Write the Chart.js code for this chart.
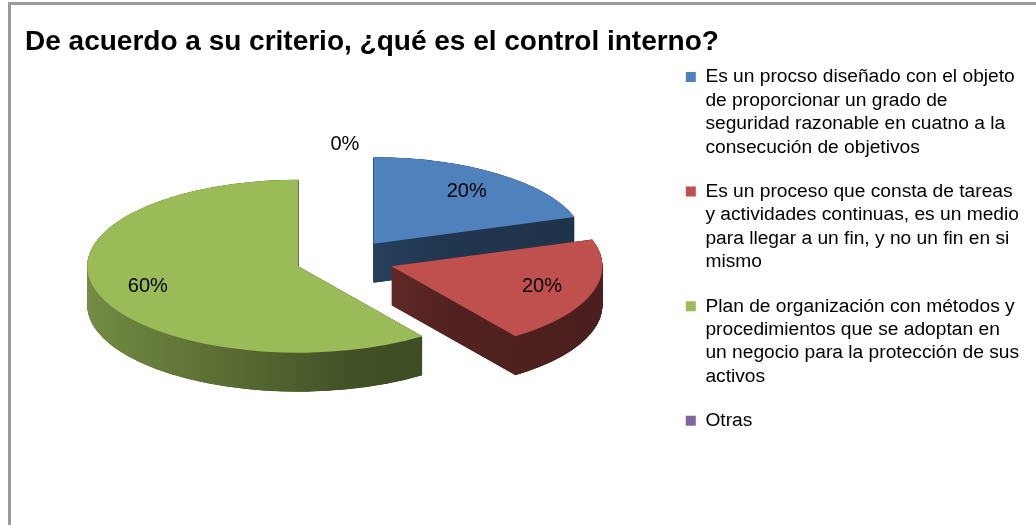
<!DOCTYPE html>
<html lang="es">
<head>
  <meta charset="UTF-8">
  <title>Control interno</title>
  <script src="https://cdn.jsdelivr.net/npm/chart.js"></script>
  <style>
    body { margin: 0; background: #fff; }
    .wrap { position: relative; width: 1036px; height: 525px; overflow: hidden; }
    .frame { position: absolute; left: 8px; top: 2px; width: 1100px; height: 600px;
             border-left: 3px solid #9a9a9a; border-top: 3px solid #9a9a9a; }
    canvas { position: absolute; left: 0; top: 0; }
  </style>
</head>
<body>
  <div class="wrap">
    <div class="frame"></div>
    <canvas id="pieChart" width="1036" height="525"></canvas>
  </div>

  <script>
    const titulo = 'De acuerdo a su criterio, ¿qué es el control interno?';

    const categorias = [
      ['Es un procso diseñado con el objeto', 'de proporcionar un grado de', 'seguridad razonable en cuatno a la', 'consecución de objetivos'],
      ['Es un proceso que consta de tareas', 'y actividades continuas, es un medio', 'para llegar a un fin, y no un fin en si', 'mismo'],
      ['Plan de organización con métodos y', 'procedimientos que se adoptan en', 'un negocio para la protección de sus', 'activos'],
      ['Otras']
    ];
    const porcentajes = [20, 20, 60, 0];
    const colores = ['#4F81BD', '#C0504D', '#9BBB59', '#8064A2'];

    const FONT = "'Liberation Sans', Arial, sans-serif";

    // darker version of a hex colour, for the side walls
    function shade(hex, f) {
      const n = parseInt(hex.slice(1), 16);
      const r = Math.round(((n >> 16) & 255) * f);
      const g = Math.round(((n >> 8) & 255) * f);
      const b = Math.round((n & 255) * f);
      return `rgb(${r},${g},${b})`;
    }

    function midAngle(arc) {
      return (arc.startAngle + arc.endAngle) / 2;
    }

    // tilted, exploded pie with side walls, drawn with the arc elements of the chart
    const pie3d = {
      id: 'pie3d',
      beforeDatasetsDraw(chart, args, opts) {
        const ctx = chart.ctx;
        const arcs = chart.getDatasetMeta(0).data;
        const values = chart.data.datasets[0].data;
        const cx = arcs[0].x;
        const cy = arcs[0].y;
        const R = arcs[0].outerRadius;
        const depth = opts.depth / opts.tilt;

        // back slices first
        const order = arcs.map((a, i) => i)
          .filter(i => arcs[i].circumference > 0)
          .sort((a, b) => Math.sin(midAngle(arcs[a])) - Math.sin(midAngle(arcs[b])));

        ctx.save();
        ctx.translate(0, cy);
        ctx.scale(1, opts.tilt);
        ctx.translate(0, -cy);
        order.forEach(i => {
          const arc = arcs[i];
          const a = midAngle(arc);
          const off = arc.options.offset || 0;
          const base = arc.options.backgroundColor;
          const grad = ctx.createLinearGradient(cx - R - off, 0, cx + R + off, 0);
          grad.addColorStop(0, shade(base, 0.8));
          grad.addColorStop(0.62, shade(base, 0.42));
          grad.addColorStop(1, shade(base, 0.38));

          const side = Object.create(arc);
          side.options = Object.assign({}, arc.options, { backgroundColor: grad, offset: 0 });
          const top = Object.create(arc);
          top.options = Object.assign({}, arc.options, { offset: 0 });

          ctx.save();
          ctx.translate(Math.cos(a) * off, Math.sin(a) * off);
          for (let k = depth; k > 0; k -= 0.5) {
            ctx.save();
            ctx.translate(0, k);
            side.draw(ctx);
            ctx.restore();
          }
          top.draw(ctx);
          ctx.restore();
        });
        ctx.restore();

        // percentage labels
        ctx.save();
        ctx.font = opts.labelFont;
        ctx.fillStyle = opts.labelColor;
        ctx.textAlign = 'center';
        ctx.textBaseline = 'middle';
        arcs.forEach((arc, i) => {
          const a = midAngle(arc);
          const off = arc.options.offset || 0;
          const r = off + (values[i] > 0 ? opts.labelInside : opts.labelOutside) * R;
          ctx.fillText(values[i] + '%', cx + Math.cos(a) * r, cy + Math.sin(a) * r * opts.tilt);
        });
        ctx.restore();
        return false;
      }
    };

    new Chart(document.getElementById('pieChart'), {
      type: 'pie',
      data: {
        labels: categorias,
        datasets: [{
          data: porcentajes,
          backgroundColor: colores,
          borderWidth: 0,
          offset: 49,
          radius: 211
        }]
      },
      options: {
        responsive: false,
        animation: false,
        events: [],
        layout: { padding: { left: 25, right: 7, top: 0, bottom: 52.6 } },
        plugins: {
          title: {
            display: true,
            text: titulo,
            align: 'start',
            color: '#000',
            font: { family: FONT, size: 28, weight: 'bold', lineHeight: 0.4 },
            padding: { top: 36.4, bottom: 0 }
          },
          legend: {
            position: 'right',
            align: 'start',
            title: { display: true, text: '', font: { size: 10, lineHeight: 1 }, padding: { top: 36.4, bottom: 0 } },
            labels: {
              boxWidth: 10,
              boxHeight: 10,
              padding: 21,
              color: '#000',
              font: { family: FONT, size: 19.2, lineHeight: 1.219 }
            }
          },
          tooltip: { enabled: false },
          pie3d: {
            tilt: 0.41,
            depth: 39,
            labelInside: 0.75,
            labelOutside: 1.1,
            labelFont: "20px 'Liberation Sans', Arial, sans-serif",
            labelColor: '#000'
          }
        }
      },
      plugins: [pie3d]
    });
  </script>
</body>
</html>
